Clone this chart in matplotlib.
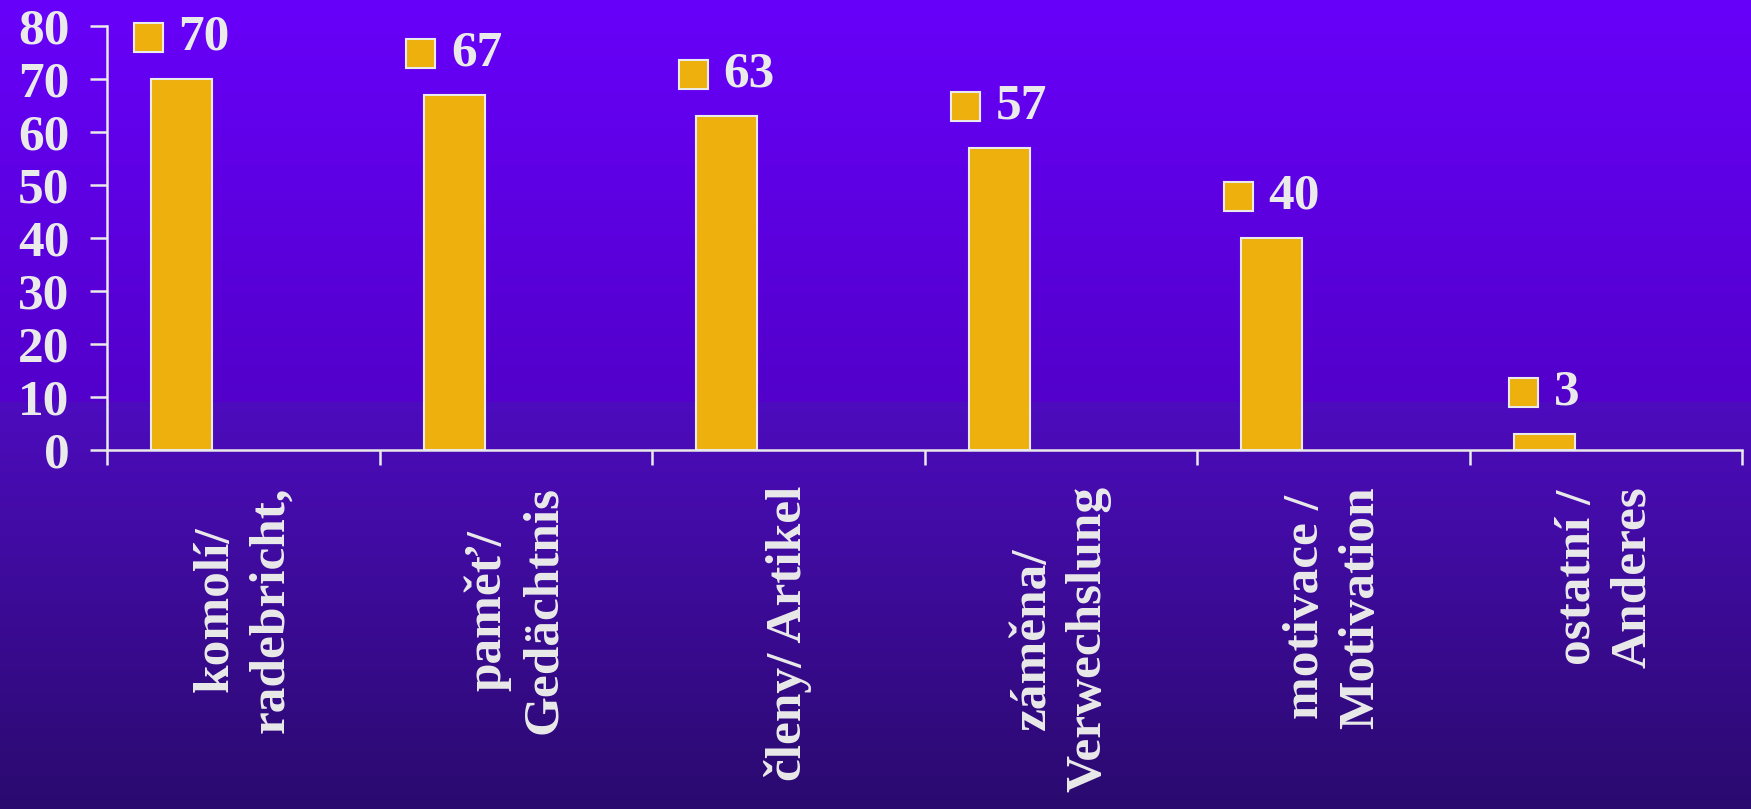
import numpy as np
import matplotlib
matplotlib.use("Agg")
import matplotlib.pyplot as plt
from matplotlib.patches import Rectangle
from matplotlib.offsetbox import AnnotationBbox, HPacker, DrawingArea, TextArea

# data
categories = ["komolí/\nradebricht,", "paměť/\nGedächtnis", "členy/ Artikel",
              "záměna/\nVerwechslung", "motivace /\nMotivation", "ostatní /\nAnderes"]
values = [70, 67, 63, 57, 40, 3]
yticks = [0, 10, 20, 30, 40, 50, 60, 70, 80]

gold = "#EDB00C"
light = "#EAEAEA"
font = "Liberation Serif"
fs = 37

fig = plt.figure(figsize=(17.51, 8.09), dpi=100)

# background gradient (top bright purple, lighter step at ~y=402px, dark at bottom)
h = 809
rows = np.zeros((h, 1, 3))
split = 402
top_a, top_b = np.array([104, 0, 250]), np.array([82, 0, 202])
bot_a, bot_b = np.array([77, 12, 190]), np.array([42, 10, 110])
for r in range(h):
    if r < split:
        t = r / split
        rows[r, 0] = top_a + (top_b - top_a) * t
    else:
        t = (r - split) / (h - split)
        rows[r, 0] = bot_a + (bot_b - bot_a) * t
bg = fig.add_axes([0, 0, 1, 1])
bg.imshow(rows / 255.0, aspect="auto", extent=[0, 1, 0, 1])
bg.set_axis_off()

ax = fig.add_axes([107 / 1751, 1 - 450 / 809, (1742 - 107) / 1751, (450 - 26) / 809])
ax.patch.set_alpha(0)

x = np.arange(len(values))
bar_x = x - 0.5 + 0.274
bars = ax.bar(bar_x, values, width=0.225, color=gold, edgecolor=light, linewidth=1.5, zorder=3)

ax.set_xlim(-0.5, len(values) - 0.5)
ax.set_ylim(0, 80)

for s in ["top", "right"]:
    ax.spines[s].set_visible(False)
for s in ["left", "bottom"]:
    ax.spines[s].set_color(light)
    ax.spines[s].set_linewidth(1.8)

ax.set_yticks(yticks)
ax.set_yticklabels([str(t) for t in yticks], fontsize=fs, fontweight="bold",
                   family=font, color=light)
ax.tick_params(axis="y", direction="out", length=12, width=1.8, color=light, pad=15)
ax.set_xticks(np.arange(len(values) + 1) - 0.5)
ax.set_xticklabels([])
ax.tick_params(axis="x", direction="out", length=11, width=1.8, color=light)

# category labels, rotated, hanging below the axis
for i, lab in enumerate(categories):
    ax.annotate(lab, xy=(i, 0), xytext=(0, -26), textcoords="offset points",
                rotation=90, ha="center", va="top", multialignment="center",
                fontsize=fs, fontweight="bold", family=font, color=light,
                linespacing=1.27, annotation_clip=False)

# value labels with small legend-key squares
for bx, v in zip(bar_x, values):
    da = DrawingArea(21, 21, 0, 0)
    da.add_artist(Rectangle((0, 0), 21, 21, facecolor=gold, edgecolor=light, linewidth=1.5))
    ta = TextArea(str(v), textprops=dict(fontsize=fs, fontweight="bold",
                                         family=font, color=light))
    box = HPacker(children=[da, ta], align="center", pad=0, sep=11)
    ab = AnnotationBbox(box, (bx, v), xybox=(0, 30), boxcoords="offset points",
                        box_alignment=(0.5, 0.5), frameon=False, pad=0,
                        annotation_clip=False)
    ax.add_artist(ab)

fig.savefig("out.png", dpi=100)
